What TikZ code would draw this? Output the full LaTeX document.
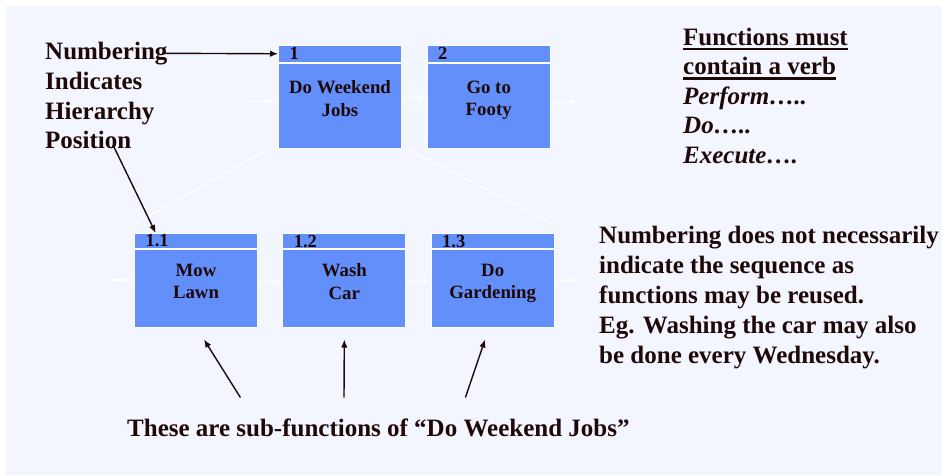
\documentclass[tikz,border=0pt]{standalone}
\usepackage{fontspec}
\setmainfont{Liberation Serif}
\usetikzlibrary{arrows.meta,positioning}
\definecolor{slidebg}{RGB}{243,246,254}
\definecolor{fnblue}{RGB}{99,143,250}
\definecolor{ink}{RGB}{30,8,8}
\newcommand{\ulbar}[1]{\setbox0\hbox{#1}\rlap{\rule[-4.8pt]{\wd0}{2.2pt}}\box0}

\begin{document}
\begin{tikzpicture}[x=1pt,y=-1pt,
    fnhead/.style={draw=white, line width=1pt, fill=fnblue, anchor=north west,
        inner ysep=0pt, inner xsep=11pt, text width=101pt, align=left,
        font=\fontsize{18.5}{22}\selectfont\bfseries, text=ink},
    fnbody/.style={draw=white, line width=1pt, fill=fnblue, anchor=north west,
        inner sep=0pt, minimum width=123pt},
    fnname/.style={align=center, inner sep=0pt,
        font=\fontsize{18.8}{22.5}\selectfont\bfseries, text=ink},
    note/.style={align=left, inner sep=0pt,
        font=\fontsize{25}{30}\selectfont\bfseries, text=ink},
    flow/.style={draw=white, line width=1.3pt, -{Latex[length=7pt,width=6pt]}},
    tree/.style={draw=white, line width=1.3pt},
    pointer/.style={draw=ink, line width=1.4pt, -{Latex[length=8pt,width=6.5pt]}}]
    \useasboundingbox (0,0) rectangle (942,475);
    \fill[white] (0,0) rectangle (942,475);
    \fill[slidebg] (6,6) rectangle (942,475);

    % top level functions
    \node[fnhead, minimum height=16.5pt] (h1) at (278,45) {1};
    \node[fnbody, minimum height=85.5pt] (b1) at (h1.south west) {};
    \node[fnname, below=18.2pt of b1.north] (t1) {Do Weekend\\Jobs};
    \node[fnhead, minimum height=16.5pt] (h2) at (426.7,45) {2};
    \node[fnbody, minimum height=85.5pt] (b2) at (h2.south west) {};
    \node[fnname, below=18.2pt of b2.north] (t2) {Go to\\Footy};

    % sub-functions of 1
    \node[fnhead, minimum height=15pt] (h11) at (134,233) {1.1};
    \node[fnbody, minimum height=78pt] (b11) at (h11.south west) {};
    \node[fnname, below=14.6pt of b11.north] (t11) {Mow\\Lawn};
    \node[fnhead, minimum height=15pt] (h12) at (282.3,233) {1.2};
    \node[fnbody, minimum height=78pt] (b12) at (h12.south west) {};
    \node[fnname, below=14.6pt of b12.north] (t12) {Wash\\Car};
    \node[fnhead, minimum height=15pt] (h13) at (430.7,233) {1.3};
    \node[fnbody, minimum height=78pt] (b13) at (h13.south west) {};
    \node[fnname, below=14.6pt of b13.north] (t13) {Do\\Gardening};

    % flow between functions
    \coordinate (in1) at (249,101.3);
    \coordinate (out1) at (578,101.5);
    \coordinate (in2) at (108,280);
    \coordinate (out2) at (577,280);
    \draw[flow, shorten >=3.5pt] (in1) -- (in1 -| b1.west);
    \draw[flow, shorten >=2pt] ([yshift=8.5pt]b1.east) -- ([yshift=8.5pt]b2.west);
    \draw[flow, shorten <=2.5pt] ([yshift=2.7pt]b2.east) -- (out1);
    \draw[flow, shorten >=1pt] (in2) -- (in2 -| b11.west);
    \draw[flow] ([yshift=7pt]b11.east) -- ([yshift=7pt]b12.west);
    \draw[flow] ([yshift=7pt]b12.east) -- ([yshift=7pt]b13.west);
    \draw[flow] ([yshift=7pt]b13.east) -- (out2);

    % decomposition lines
    \draw[tree] ([xshift=-10pt]b1.south west) -- ([xshift=3pt,yshift=10pt]h11.north west);
    \draw[tree] ([xshift=6pt]b1.south east) -- ([xshift=-3pt,yshift=10pt]h13.north east);

    % notes
    \node[note, anchor=north west, font=\fontsize{25}{29.7}\selectfont\bfseries]
        (hiernote) at (45,42.1) {Numbering\\Indicates\\Hierarchy\\Position};
    \node[note, anchor=north west, font=\fontsize{25}{29.5}\selectfont\bfseries]
        (verbnote) at (683,27.8) {\ulbar{Functions must}\\\ulbar{contain a verb}\\
        \textit{Perform…..}\\\textit{Do…..}\\\textit{Execute….}};
    \node[note, anchor=north west] (seqnote) at (599,225.8)
        {Numbering does not necessarily\\indicate the sequence as\\functions may be reused.\\
        Eg. Washing the car may also\\be done every Wednesday.};
    \node[note, anchor=base west] (subnote) at (127,436)
        {These are sub-functions of “Do Weekend Jobs”};

    % pointers
    \coordinate (numtail) at (165,53.3);
    \coordinate (postail) at (113,145);
    \coordinate (subtail1) at (240.4,397.5);
    \coordinate (subtail2) at (344,397.5);
    \coordinate (subtail3) at (465.4,397.5);
    \draw[pointer] (numtail) -- (h1.west);
    \draw[pointer] (postail) -- ([xshift=21.7pt]h11.north west);
    \draw[pointer] (subtail1) -- ([xshift=8pt,yshift=-11.5pt]b11.south);
    \draw[pointer] (subtail2) -- ([yshift=-11.5pt]b12.south);
    \draw[pointer] (subtail3) -- ([xshift=-7.6pt,yshift=-11.5pt]b13.south);
\end{tikzpicture}
\end{document}
